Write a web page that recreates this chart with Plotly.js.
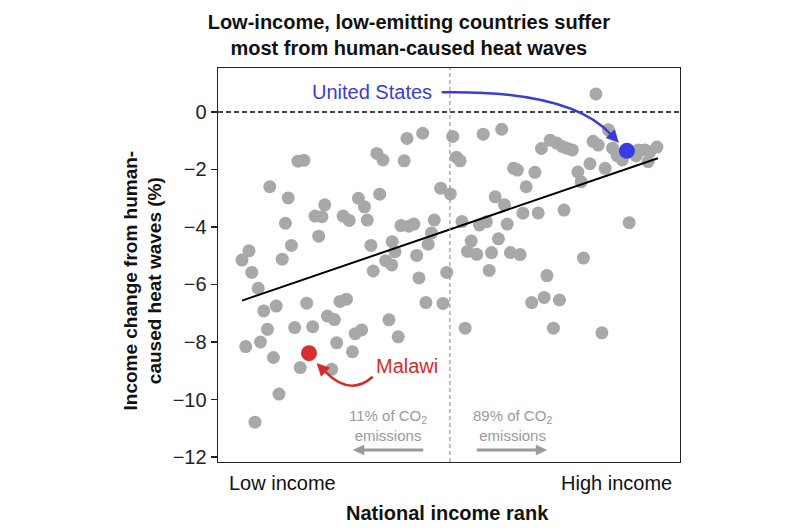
<!DOCTYPE html>
<html>
<head>
<meta charset="utf-8">
<script src="https://cdn.plot.ly/plotly-3.0.1.min.js"></script>
<style>html,body{margin:0;padding:0;background:#fff;}#chart{width:800px;height:530px;}</style>
</head>
<body>
<div id="chart"></div>
<script>
// National income rank (0 = poorest, 100 = richest) and income change (%)
const rankX = [5.2,6.7,7.3,8.7,9.9,12.6,19.2,26.4,27.8,23.7,25.2,10.7,16.6,20.5,29.7,31.1,37.0,39.0,6.0,9.2,12.0,25.7,29.1,17.8,24.6,13.2,8.0,13.9,33.6,36.3,37.6,38.3,43.0,43.5,45.0,48.7,33.1,37.7,45.5,46.2,46.8,39.6,41.3,42.4,32.3,27.1,28.4,30.4,31.7,35.0,34.4,35.7,40.3,40.9,44.3,48.2,50.3,11.2,15.2,14.6,15.9,17.3,18.6,21.0,22.5,23.1,21.8,
  50.8,57.4,61.4,51.6,52.4,49.5,52.8,56.6,58.1,62.6,54.8,60.7,54.0,56.0,59.2,63.3,65.4,58.7,71.2,79.1,53.5,67.9,70.6,73.9,72.6,83.1,60.0,62.0,66.0,69.3,74.9,66.7,68.6,64.0,64.8,70.0,71.9,73.3,74.5,75.5,76.7,81.8,84.5,81.2,82.3,85.4,86.4,87.5,91.0,92.4,93.5,95.0,93.1,80.5,83.8,77.9,78.6,89.0,90.5];
const incomeChange = [-5.15,-4.83,-5.58,-6.13,-6.92,-6.75,-6.65,-6.59,-6.51,-7.10,-7.22,-7.56,-7.50,-7.47,-7.71,-7.58,-7.23,-7.82,-8.16,-8.00,-8.54,-8.03,-8.34,-8.89,-8.95,-9.81,-10.79,-5.12,-5.53,-5.17,-5.32,-4.86,-4.99,-5.77,-6.63,-6.66,-4.64,-4.51,-4.60,-4.21,-3.76,-3.95,-3.97,-3.90,-3.76,-3.62,-3.77,-3.00,-3.30,-2.86,-1.44,-1.67,-1.70,-0.92,-0.74,-2.65,-2.85,-2.60,-2.99,-3.87,-4.64,-1.71,-1.68,-3.62,-3.64,-3.23,-4.32,
  -0.85,-0.77,-0.60,-1.57,-1.70,-5.58,-3.81,-3.93,-3.82,-3.90,-4.49,-4.41,-4.85,-4.95,-4.89,-4.89,-4.96,-5.51,-5.69,-5.08,-7.52,-6.63,-6.45,-6.54,-7.52,-7.68,-2.95,-3.23,-3.52,-3.51,-3.41,-2.60,-2.10,-1.96,-2.02,-1.27,-0.98,-1.08,-1.20,-1.26,-1.32,0.63,-0.62,-1.02,-1.15,-1.26,-1.52,-1.67,-1.32,-1.32,-1.38,-1.22,-1.73,-1.80,-1.96,-2.09,-2.43,-3.85,-1.53];
const usRank = [88.5], usChange = [-1.35];
const malawiRank = [19.7], malawiChange = [-8.39];
const trendRank = [5.2, 95.2], trendChange = [-6.56, -1.61];
const yTicks = [0,-2,-4,-6,-8,-10,-12];
const xLabels = ['Low income', 'High income'];
const xLabelPos = [13.96, 86.15];
const co2Labels = ['11% of CO<sub>2</sub><br>emissions', '89% of CO<sub>2</sub><br>emissions'];
const co2LabelPos = [36.69, 63.64];
const incomeSplit = 50.2;

const FONT = '"Liberation Sans", Arial, Helvetica, sans-serif';
const BLUE = '#3c3cd4', RED = '#cf2d2d', GREY = '#a8a8a8', ARROWGREY = '#9a9a9a';

const traces = [
  {x: rankX, y: incomeChange, type: 'scatter', mode: 'markers', marker: {color: GREY, size: 13}, hoverinfo: 'skip'},
  {x: trendRank, y: trendChange, type: 'scatter', mode: 'lines', line: {color: '#000', width: 2}, hoverinfo: 'skip'},
  {x: usRank, y: usChange, type: 'scatter', mode: 'markers', marker: {color: '#3a3ae6', size: 16}, hoverinfo: 'skip'},
  {x: malawiRank, y: malawiChange, type: 'scatter', mode: 'markers', marker: {color: '#d33030', size: 16}, hoverinfo: 'skip'}
];

function tri(pts, color) {
  return {type: 'path', xref: 'x', yref: 'y',
    path: 'M ' + pts.map(p => p[0] + ',' + p[1]).join(' L ') + ' Z',
    fillcolor: color, line: {color: color, width: 0.5}};
}

const layout = {
  width: 800, height: 530,
  margin: {l: 218, r: 120, t: 68, b: 68},
  paper_bgcolor: '#fff', plot_bgcolor: '#fff',
  showlegend: false,
  font: {family: FONT, color: '#111'},
  title: {text: '<b>Low-income, low-emitting countries suffer<br>most from human-caused heat waves</b>',
    font: {family: FONT, size: 20, color: '#111'}, x: 0.511, xref: 'container', xanchor: 'center',
    y: 0.946, yref: 'container', yanchor: 'middle'},
  xaxis: {range: [0, 100], showgrid: false, zeroline: false, showticklabels: false, ticks: '',
    showline: true, linecolor: '#222', linewidth: 1.4, mirror: true, fixedrange: true},
  yaxis: {range: [-12.174, 1.53], tickvals: yTicks, showgrid: false, zeroline: false,
    ticks: 'outside', ticklen: 6, tickwidth: 1.3, tickcolor: '#222',
    tickfont: {family: FONT, size: 20, color: '#222'},
    showline: true, linecolor: '#222', linewidth: 1.4, mirror: true, fixedrange: true},
  shapes: [
    {type: 'line', xref: 'paper', x0: 0, x1: 1, yref: 'y', y0: 0, y1: 0, line: {color: '#111', width: 1.3, dash: '5px,3px'}},
    {type: 'line', xref: 'x', x0: incomeSplit, x1: incomeSplit, yref: 'paper', y0: 0, y1: 1, line: {color: '#999', width: 1.2, dash: '4px,3px'}},
    // curved pointer to United States
    {type: 'path', xref: 'x', yref: 'y', path: 'M 48.42,0.685 Q 76.19,0.765 85.06,-0.783', line: {color: BLUE, width: 2.5}},
    tri([[86.69,-1.061],[83.96,-0.897],[85.87,-0.612]], BLUE),
    // curved pointer to Malawi
    {type: 'path', xref: 'x', yref: 'y', path: 'M 33.48,-9.21 Q 28.57,-9.91 23.25,-9.043', line: {color: RED, width: 2.5}},
    tri([[21.43,-8.748],[24.18,-8.897],[22.32,-9.190]], RED),
    // emission arrows
    {type: 'line', xref: 'x', yref: 'y', x0: 44.44, x1: 31.3, y0: -11.757, y1: -11.757, line: {color: ARROWGREY, width: 3}},
    tri([[29.29,-11.757],[31.6,-11.58],[31.6,-11.93]], ARROWGREY),
    {type: 'line', xref: 'x', yref: 'y', x0: 56.0, x1: 69.1, y0: -11.757, y1: -11.757, line: {color: ARROWGREY, width: 3}},
    tri([[71.15,-11.757],[68.84,-11.58],[68.84,-11.93]], ARROWGREY)
  ],
  annotations: [
    {text: 'United States', x: 33.23, y: 0.685, xref: 'x', yref: 'y', showarrow: false, xanchor: 'center', yanchor: 'middle', font: {family: FONT, size: 20, color: BLUE}},
    {text: 'Malawi', x: 40.91, y: -8.83, xref: 'x', yref: 'y', showarrow: false, xanchor: 'center', yanchor: 'middle', font: {family: FONT, size: 20, color: RED}},
    {text: co2Labels[0], x: co2LabelPos[0], y: -10.89, xref: 'x', yref: 'y', showarrow: false, xanchor: 'center', yanchor: 'middle', font: {family: FONT, size: 15, color: '#9a9a9a'}},
    {text: co2Labels[1], x: co2LabelPos[1], y: -10.89, xref: 'x', yref: 'y', showarrow: false, xanchor: 'center', yanchor: 'middle', font: {family: FONT, size: 15, color: '#9a9a9a'}},
    {text: xLabels[0], x: xLabelPos[0], y: -0.0533, xref: 'x', yref: 'paper', showarrow: false, xanchor: 'center', yanchor: 'middle', font: {family: FONT, size: 20, color: '#111'}},
    {text: xLabels[1], x: xLabelPos[1], y: -0.0533, xref: 'x', yref: 'paper', showarrow: false, xanchor: 'center', yanchor: 'middle', font: {family: FONT, size: 20, color: '#111'}},
    {text: '<b>National income rank</b>', x: 0.497, y: -0.1294, xref: 'paper', yref: 'paper', showarrow: false, xanchor: 'center', yanchor: 'middle', font: {family: FONT, size: 20, color: '#111'}},
    {text: '<b>Income change from human-<br>caused heat waves (%)</b>', x: -0.1634, y: 0.4594, xref: 'paper', yref: 'paper', showarrow: false, textangle: -90, xanchor: 'center', yanchor: 'middle', font: {family: FONT, size: 19, color: '#111'}}
  ]
};

Plotly.newPlot('chart', traces, layout, {staticPlot: true, displayModeBar: false});
</script>
</body>
</html>
